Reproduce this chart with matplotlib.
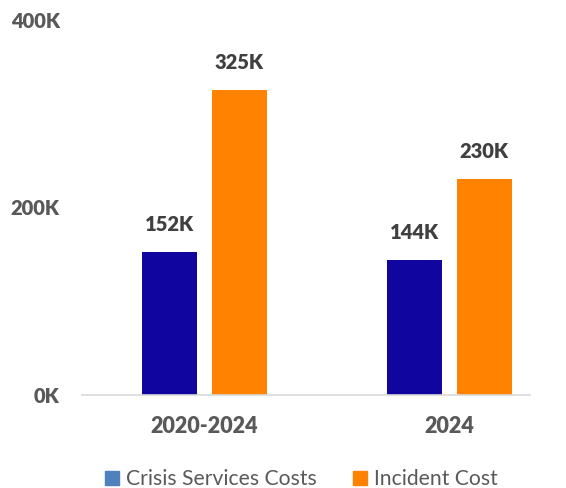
import matplotlib.pyplot as plt
from matplotlib.patches import Patch
import numpy as np

plt.rcParams['font.family'] = ['Lato', 'DejaVu Sans']

categories = ['2020-2024', '2024']
crisis_costs = [152000, 144000]
incident_costs = [325000, 230000]
series_names = ['Crisis Services Costs', 'Incident Cost']
y_ticks = [0, 200000, 400000]
y_tick_labels = ['0K', '200K', '400K']

navy = '#10069F'
orange = '#FF8200'
legend_blue = '#4F81BD'
text_grey = '#595959'

fig = plt.figure(figsize=(5.66, 4.88), dpi=100)
ax = fig.add_axes([0.1449, 0.1906, 0.7915, 0.7684])

x = np.arange(len(categories))
w = 0.224
off = 0.143
b1 = ax.bar(x - off, crisis_costs, w, color=navy)
b2 = ax.bar(x + off, incident_costs, w, color=orange)

for bars, vals in ((b1, crisis_costs), (b2, incident_costs)):
    for b, v in zip(bars, vals):
        ax.annotate(f'{v // 1000}K', (b.get_x() + b.get_width() / 2, v),
                    xytext=(0, 20), textcoords='offset points',
                    ha='center', va='center', fontsize=14.5,
                    fontweight='heavy', color='#404040')

ax.set_xlim(-0.5, 1.33)
ax.set_ylim(0, 400000)
ax.set_xticks(x)
ax.set_xticklabels(categories, fontsize=15.5, fontweight='heavy', color=text_grey)
ax.set_yticks(y_ticks)
ax.set_yticklabels(y_tick_labels, fontsize=14.5, fontweight='heavy', color=text_grey)
ax.tick_params(axis='both', length=0)
ax.tick_params(axis='x', pad=15)
ax.tick_params(axis='y', pad=16)

for s in ['top', 'right', 'left']:
    ax.spines[s].set_visible(False)
ax.spines['bottom'].set_color('#D9D9D9')
ax.spines['bottom'].set_linewidth(1.2)

handles = [Patch(color=legend_blue), Patch(color=orange)]
fig.legend(handles, series_names, loc='center', bbox_to_anchor=(0.533, 0.018),
           ncol=2, frameon=False, fontsize=15.2, labelcolor=text_grey,
           handlelength=0.65, handleheight=0.65, handletextpad=0.35, columnspacing=1.7)

fig.savefig('out.png', dpi=100)
